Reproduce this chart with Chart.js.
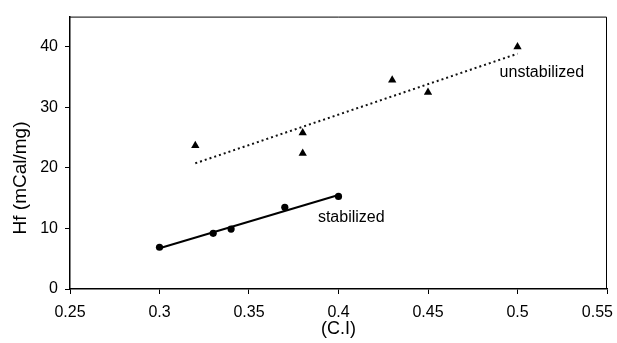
<!DOCTYPE html>
<html lang="en">

<head>
    <meta charset="UTF-8">
    <title>Hf vs C.I</title>
    <script src="https://cdn.jsdelivr.net/npm/chart.js"></script>
    <style>
        body { margin: 0; background: #fff; }
        canvas { display: block; }
    </style>
</head>

<body>
    <canvas id="chart" width="617" height="343"></canvas>

    <script>
        // measured values
        var unstabX = [0.32, 0.38, 0.38, 0.43, 0.45, 0.50];
        var unstabY = [23.7, 25.8, 22.4, 34.5, 32.5, 40.0];
        var stabX = [0.30, 0.33, 0.34, 0.37, 0.40];
        var stabY = [6.9, 9.2, 9.9, 13.5, 15.3];

        var xTicks = [0.25, 0.3, 0.35, 0.4, 0.45, 0.5, 0.55];
        var xTickLabels = ['0.25', '0.3', '0.35', '0.4', '0.45', '0.5', '0.55'];
        var yTicks = [0, 10, 20, 30, 40];
        var yTickLabels = ['0', '10', '20', '30', '40'];

        var FONT = 'Liberation Sans, Arial, sans-serif';
        var LAST = xTicks.length - 1;

        function toPoints(xs, ys) {
            return xs.map(function (x, i) { return { x: x, y: ys[i] }; });
        }

        // least squares line across the range of the series
        function trend(xs, ys) {
            var n = xs.length, mx = 0, my = 0, sxy = 0, sxx = 0;
            for (var i = 0; i < n; i++) { mx += xs[i]; my += ys[i]; }
            mx /= n; my /= n;
            for (var j = 0; j < n; j++) {
                sxy += (xs[j] - mx) * (ys[j] - my);
                sxx += (xs[j] - mx) * (xs[j] - mx);
            }
            var b = sxy / sxx, a = my - b * mx;
            var lo = Math.min.apply(null, xs), hi = Math.max.apply(null, xs);
            return [{ x: lo, y: a + b * lo }, { x: hi, y: a + b * hi }];
        }

        // frame + axis titles + series labels
        var decorations = {
            id: 'decorations',
            afterDraw: function (chart) {
                var ctx = chart.ctx, area = chart.chartArea;
                var xs = chart.scales.x, ys = chart.scales.y;
                ctx.save();
                ctx.strokeStyle = '#000';
                ctx.lineWidth = 1;
                ctx.beginPath();
                ctx.moveTo(area.left, area.top + 0.5);
                ctx.lineTo(area.right - 0.5, area.top + 0.5);
                ctx.lineTo(area.right - 0.5, area.bottom);
                ctx.stroke();

                ctx.fillStyle = '#000';
                ctx.font = '16px ' + FONT;

                // last x label is pulled inside the canvas, on the same line as the others
                var ref = xs.getLabelItems(area)[0];
                ctx.textAlign = 'right';
                ctx.textBaseline = ref.options.textBaseline;
                var lastX = xs.getPixelForValue(xTicks[LAST]) + ctx.measureText(xTickLabels[LAST]).width / 2;
                ctx.fillText(xTickLabels[LAST], Math.min(lastX, chart.width - 4),
                    ref.options.translation[1] + ref.textOffset);

                ctx.textBaseline = 'middle';
                ctx.textAlign = 'left';
                ctx.fillText('unstabilized', xs.getPixelForValue(0.49), ys.getPixelForValue(35.8));
                ctx.fillText('stabilized', xs.getPixelForValue(0.3885), ys.getPixelForValue(11.8));

                ctx.textAlign = 'center';
                ctx.font = '18px ' + FONT;
                ctx.fillText('(C.I)', xs.getPixelForValue(0.4), 329);

                ctx.translate(21, 178);
                ctx.rotate(-Math.PI / 2);
                ctx.font = '19px ' + FONT;
                ctx.fillText('Hf (mCal/mg)', 0, 0);
                ctx.restore();
            }
        };

        var ctx = document.getElementById('chart').getContext('2d');
        new Chart(ctx, {
            type: 'scatter',
            data: {
                datasets: [{
                    label: 'unstabilized',
                    data: toPoints(unstabX, unstabY),
                    pointStyle: 'triangle',
                    pointRadius: 4.8,
                    backgroundColor: '#000',
                    borderColor: '#000',
                    borderWidth: 0
                }, {
                    label: 'unstabilized trend',
                    data: trend(unstabX, unstabY),
                    showLine: true,
                    pointRadius: 0,
                    borderColor: '#111',
                    borderWidth: 2,
                    borderDash: [2, 3]
                }, {
                    label: 'stabilized',
                    data: toPoints(stabX, stabY),
                    pointStyle: 'circle',
                    pointRadius: 3.6,
                    backgroundColor: '#000',
                    borderColor: '#000',
                    borderWidth: 0
                }, {
                    label: 'stabilized trend',
                    data: trend(stabX, stabY),
                    showLine: true,
                    pointRadius: 0,
                    borderColor: '#000',
                    borderWidth: 2
                }]
            },
            options: {
                responsive: false,
                animation: false,
                devicePixelRatio: 1,
                layout: { padding: { top: 15, right: 10, left: 0, bottom: 0 } },
                plugins: {
                    legend: { display: false },
                    tooltip: { enabled: false }
                },
                scales: {
                    x: {
                        type: 'linear',
                        min: 0.25,
                        max: 0.55,
                        afterBuildTicks: function (scale) {
                            scale.ticks = xTicks.map(function (v) { return { value: v }; });
                        },
                        afterFit: function (scale) {
                            scale.height = 54;
                            // let the end labels hang past the plot edges
                            scale.paddingLeft = 0;
                            scale.paddingRight = 0;
                        },
                        ticks: {
                            color: '#000',
                            font: { family: FONT, size: 16 },
                            padding: 9,
                            maxRotation: 0,
                            autoSkip: false,
                            callback: function (v, i) { return i === LAST ? '' : xTickLabels[i]; }
                        },
                        grid: { drawOnChartArea: false, tickLength: 5, color: '#000' },
                        border: { color: '#000', width: 1.5 }
                    },
                    y: {
                        min: 0,
                        max: 45,
                        afterBuildTicks: function (scale) {
                            scale.ticks = yTicks.map(function (v) { return { value: v }; });
                        },
                        afterFit: function (scale) { scale.width = 70; },
                        ticks: {
                            color: '#000',
                            font: { family: FONT, size: 16 },
                            padding: 7,
                            callback: function (v, i) { return yTickLabels[i]; }
                        },
                        grid: { drawOnChartArea: false, tickLength: 5, color: '#000' },
                        border: { color: '#000', width: 1.5 }
                    }
                }
            },
            plugins: [decorations]
        });
    </script>

</body>

</html>
